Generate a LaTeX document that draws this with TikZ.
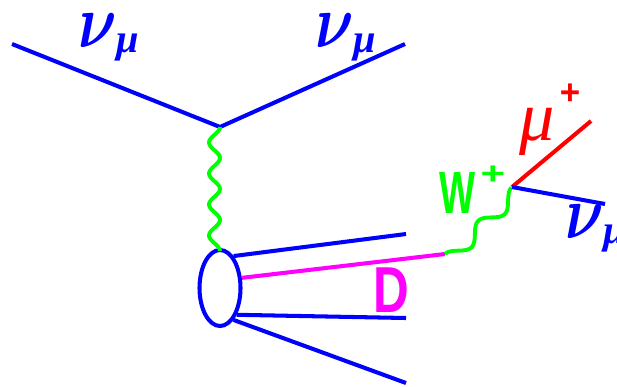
\RequirePackage{fix-cm}
\documentclass[tikz,border=0pt]{standalone}
\usepackage{fontspec}
\usepackage{bm}
\usetikzlibrary{shapes.geometric}
\newfontfamily\labelsans{Liberation Sans}
\newfontfamily\labelserif{Liberation Serif}
\definecolor{dpink}{rgb}{1,0,1}
\definecolor{wgreen}{rgb}{0,1,0}
% nu_mu label
\newcommand{\numulbl}{%
  \scalebox{0.85}[1.08]{\fontsize{40}{40}\selectfont$\bm{\nu}$}%
  \raisebox{-3.4pt}{\labelserif\bfseries\itshape\fontsize{23}{23}\selectfont μ}}

\begin{document}
\begin{tikzpicture}[x=0.02cm, y=-0.02cm,
  fermion/.style={blue, line width=2.3pt},
  dmeson/.style={dpink, line width=2.3pt},
  muon/.style={red, line width=2.3pt},
  boson/.style={wgreen, line width=2.2pt},
  lbl/.style={anchor=base west, inner sep=0pt}]
  % frame
  \useasboundingbox (0,0) rectangle (617,386);
  % neutrino line
  \coordinate (nuin)  at (12,44);
  \coordinate (vtx)   at (220,127);
  \coordinate (nuout) at (405,44);
  \draw[fermion] (nuin) -- (vtx) -- (nuout);
  \node[lbl, blue] (nuinlbl)  at (78,47)  {\numulbl};
  \node[lbl, blue] (nuoutlbl) at (315,47) {\numulbl};
  % hadron blob
  \node[ellipse, draw=blue, line width=2.3pt, minimum width=41*0.02cm,
    minimum height=76*0.02cm, inner sep=0pt] (blob) at (220,288) {};
  \draw[boson, shift={(vtx)}] plot[domain=0:124, samples=90, smooth]
    ({-5.5*(1-cos(\x/31*360))}, {\x});
  % jets
  \coordinate (jeta) at (406,234);
  \coordinate (jetb) at (406,318);
  \coordinate (jetc) at (406,383);
  \draw[fermion] (blob.67) -- (jeta);
  \draw[fermion] (blob.-58) -- (jetb);
  \draw[fermion] (blob.-67) -- (jetc);
  % D meson
  \coordinate (ddecay) at (445,254);
  \draw[dmeson] (blob.25) -- (ddecay);
  \node[lbl, dpink, font=\labelsans\bfseries\fontsize{37}{40}\selectfont] (dlbl) at (373,312)
    {\scalebox{0.76}[1]{D}};
  % W decay
  \coordinate (wvtx)  at (512,187);
  \coordinate (muend) at (591,121);
  \coordinate (nuend) at (605,204);
  \draw[boson, shift={(ddecay)}] plot[domain=0:94, samples=80, smooth]
    ({0.707*(\x + 7*(1-cos(\x/47*360)))}, {0.707*(-\x + 7*(1-cos(\x/47*360)))});
  \draw[muon] (wvtx) -- (muend);
  \draw[fermion] (wvtx) -- (nuend);
  \node[lbl, wgreen, font=\labelsans\bfseries\fontsize{34}{40}\selectfont] (wlbl) at (439,213)
    {\scalebox{0.64}[1]{W}\hspace{3pt}\raisebox{16pt}{\fontsize{24}{24}\selectfont\scalebox{1}[0.75]{+}}};
  \node[lbl, red, font=\labelserif\itshape\fontsize{40}{44}\selectfont] (mulbl) at (519,140)
    {μ\hspace{3pt}\raisebox{20pt}{\labelsans\bfseries\fontsize{20}{20}\selectfont+}};
  \node[lbl, blue] (nuendlbl) at (565,238) {\numulbl};
\end{tikzpicture}
\end{document}
